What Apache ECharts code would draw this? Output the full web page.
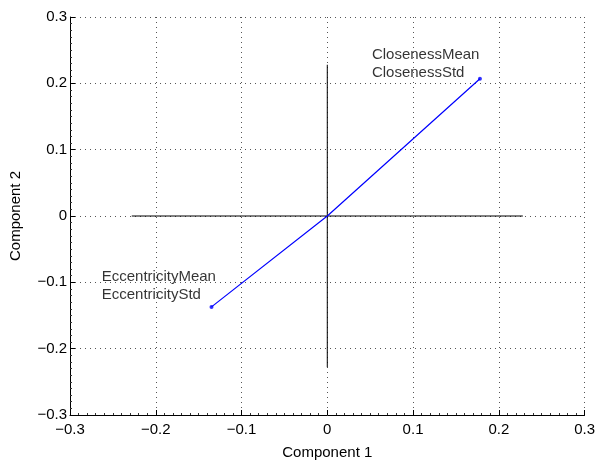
<!DOCTYPE html>
<html>
<head>
<meta charset="utf-8">
<script src="https://cdn.jsdelivr.net/npm/echarts@6/dist/echarts.min.js"></script>
<style>
html, body { margin: 0; padding: 0; background: #fff; }
#main { width: 598px; height: 465px; }
</style>
</head>
<body>
<div id="main"></div>
<script>
// biplot vectors (component 1, component 2)
var closenessEnd = [0.178, 0.207];
var eccentricityEnd = [-0.135, -0.137];
// reference axes through the origin
var axisHalf = 0.228;
// label anchors
var labelNames = ['ClosenessMean\nClosenessStd', 'EccentricityMean\nEccentricityStd'];
var labelPos = [[0.052, 0.229], [-0.263, -0.106]];

var chart = echarts.init(document.getElementById('main'));
var font = 'Liberation Sans, Arial, sans-serif';

function fmt(v) {
    var s = (Math.round(v * 10) / 10).toString();
    return s.replace('-', '\u2212');
}

chart.setOption({
    animation: false,
    grid: { left: 69, right: 13, top: 17, bottom: 49 },
    xAxis: {
        type: 'value', min: -0.3, max: 0.3, interval: 0.1,
        name: 'Component 1', nameLocation: 'middle', nameGap: 30,
        nameTextStyle: { color: '#000', fontSize: 15, fontFamily: font },
        axisLine: { show: true, onZero: false, lineStyle: { color: '#000', width: 1 } },
        axisTick: { show: true, inside: true, length: 5, lineStyle: { color: '#000' } },
        minorTick: { show: true, splitNumber: 10, length: 2, lineStyle: { color: '#333' } },
        axisLabel: { color: '#000', fontSize: 15, fontFamily: font, margin: 7, formatter: fmt },
        splitLine: { show: true, lineStyle: { color: '#555', type: [1, 4], width: 1 } }
    },
    yAxis: {
        type: 'value', min: -0.3, max: 0.3, interval: 0.1,
        name: 'Component 2', nameLocation: 'middle', nameGap: 47,
        nameTextStyle: { color: '#000', fontSize: 15, fontFamily: font },
        axisLine: { show: true, onZero: false, lineStyle: { color: '#000', width: 1 } },
        axisTick: { show: true, inside: true, length: 5, lineStyle: { color: '#000' } },
        minorTick: { show: true, splitNumber: 10, length: 2, lineStyle: { color: '#333' } },
        axisLabel: { color: '#000', fontSize: 15, fontFamily: font, margin: 3, formatter: fmt },
        splitLine: { show: true, lineStyle: { color: '#555', type: [1, 4], width: 1 } }
    },
    series: [
        {
            type: 'line', symbol: 'none', silent: true,
            lineStyle: { color: '#000', width: 1 },
            data: [[-axisHalf, 0], [axisHalf, 0]]
        },
        {
            type: 'line', symbol: 'none', silent: true,
            lineStyle: { color: '#000', width: 1 },
            data: [[0, -axisHalf], [0, axisHalf]]
        },
        {
            type: 'line', symbol: 'none', silent: true,
            lineStyle: { color: '#0000ff', width: 1.2 },
            data: [eccentricityEnd, [0, 0], closenessEnd]
        },
        {
            type: 'scatter', symbol: 'circle', symbolSize: 4, silent: true,
            itemStyle: { color: '#0000ff' },
            data: [closenessEnd, eccentricityEnd]
        },
        {
            type: 'scatter', symbolSize: 0, silent: true,
            label: {
                show: true, position: 'right', distance: 0, align: 'left',
                color: '#000', fontSize: 15, fontFamily: font, lineHeight: 18,
                formatter: function (p) { return labelNames[p.dataIndex]; }
            },
            data: labelPos
        }
    ]
});
</script>
</body>
</html>
